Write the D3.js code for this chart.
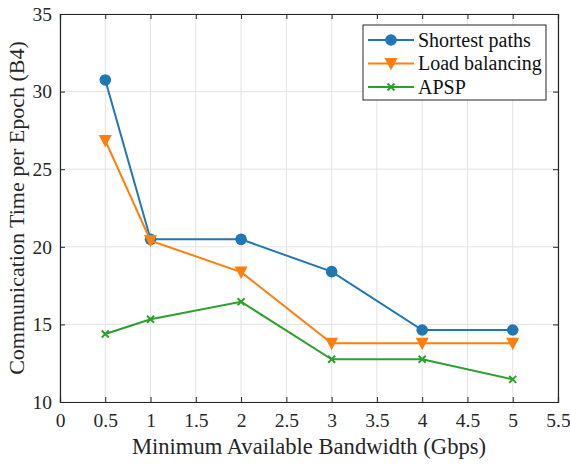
<!DOCTYPE html>
<html>
<head>
<meta charset="utf-8">
<script src="https://cdn.jsdelivr.net/npm/d3@7"></script>
<style>
  body { margin: 0; background: #fff; }
  svg text { font-family: "Liberation Serif", "DejaVu Serif", serif; }
</style>
</head>
<body>
<div id="chart"></div>
<script>
'use strict';

var bandwidth = [0.5, 1, 2, 3, 4, 5];
var shortestPaths = [30.75, 20.48, 20.48, 18.4, 14.64, 14.64];
var loadBalancing = [26.85, 20.4, 18.37, 13.78, 13.78, 13.78];
var apsp = [14.38, 15.33, 16.46, 12.75, 12.75, 11.46];
var seriesNames = ['Shortest paths', 'Load balancing', 'APSP'];
var seriesColors = ['#1f77b4', '#ff7f0e', '#2ca02c'];
var xTicks = [0, 0.5, 1, 1.5, 2, 2.5, 3, 3.5, 4, 4.5, 5, 5.5];
var yTicks = [10, 15, 20, 25, 30, 35];

var width = 570;
var height = 464;
var margin = { top: 14, right: 12, bottom: 62, left: 60 };

var svg = d3.select('#chart').append('svg')
  .attr('width', width)
  .attr('height', height);

var x = d3.scaleLinear().domain([0, 5.5]).range([margin.left, width - margin.right]);
var y = d3.scaleLinear().domain([10, 35]).range([height - margin.bottom, margin.top]);

// grid
svg.append('g').selectAll('line')
  .data(xTicks).enter()
  .append('line')
  .attr('x1', function (d) { return x(d); })
  .attr('x2', function (d) { return x(d); })
  .attr('y1', y(10))
  .attr('y2', y(35))
  .attr('stroke', '#e3e3e3')
  .attr('stroke-width', 1);

svg.append('g').selectAll('line')
  .data(yTicks).enter()
  .append('line')
  .attr('y1', function (d) { return y(d); })
  .attr('y2', function (d) { return y(d); })
  .attr('x1', x(0))
  .attr('x2', x(5.5))
  .attr('stroke', '#e3e3e3')
  .attr('stroke-width', 1);

// axes, ticks inside like matlab
var tickLen = 5;
var bottomAxis = svg.append('g')
  .attr('transform', 'translate(0,' + y(10) + ')')
  .call(d3.axisBottom(x).tickValues(xTicks).tickSize(-tickLen).tickPadding(tickLen + 6)
    .tickFormat(d3.format('')));
var topAxis = svg.append('g')
  .attr('transform', 'translate(0,' + y(35) + ')')
  .call(d3.axisTop(x).tickValues(xTicks).tickSize(-tickLen).tickFormat(''));
var leftAxis = svg.append('g')
  .attr('transform', 'translate(' + x(0) + ',0)')
  .call(d3.axisLeft(y).tickValues(yTicks).tickSize(-tickLen).tickPadding(tickLen + 3));
var rightAxis = svg.append('g')
  .attr('transform', 'translate(' + x(5.5) + ',0)')
  .call(d3.axisRight(y).tickValues(yTicks).tickSize(-tickLen).tickFormat(''));

[bottomAxis, topAxis, leftAxis, rightAxis].forEach(function (a) {
  a.attr('font-family', null).attr('font-size', 19.5);
  a.select('.domain').attr('stroke', '#262626').attr('stroke-width', 1.2);
  a.selectAll('.tick line').attr('stroke', '#262626').attr('stroke-width', 1);
  a.selectAll('.tick text').attr('fill', '#262626');
});

// axis titles
svg.append('text')
  .text('Minimum Available Bandwidth (Gbps)')
  .attr('x', (x(0) + x(5.5)) / 2)
  .attr('y', 454)
  .attr('text-anchor', 'middle')
  .attr('font-size', 22.6)
  .attr('fill', '#262626');

svg.append('text')
  .text('Communication Time per Epoch (B4)')
  .attr('transform', 'translate(24,' + (y(10) + y(35)) / 2 + ') rotate(-90)')
  .attr('text-anchor', 'middle')
  .attr('font-size', 22)
  .attr('fill', '#262626');

// series
var allSeries = [shortestPaths, loadBalancing, apsp];
var line = d3.line()
  .x(function (d, i) { return x(bandwidth[i]); })
  .y(function (d) { return y(d); });

function drawMarker(g, kind, color) {
  if (kind === 0) {
    g.append('circle').attr('r', 5.8).attr('fill', color);
  } else if (kind === 1) {
    g.append('path').attr('d', 'M-6.5,-5.5L6.5,-5.5L0,7z').attr('fill', color);
  } else {
    g.append('path').attr('d', 'M-3.5,-3.5L3.5,3.5M-3.5,3.5L3.5,-3.5')
      .attr('stroke', color).attr('stroke-width', 2).attr('fill', 'none');
  }
}

allSeries.forEach(function (values, k) {
  svg.append('path')
    .datum(values)
    .attr('d', line)
    .attr('fill', 'none')
    .attr('stroke', seriesColors[k])
    .attr('stroke-width', 2);

  svg.append('g').selectAll('g')
    .data(values).enter()
    .append('g')
    .attr('transform', function (d, i) { return 'translate(' + x(bandwidth[i]) + ',' + y(d) + ')'; })
    .each(function () { drawMarker(d3.select(this), k, seriesColors[k]); });
});

// legend
var legend = svg.append('g').attr('transform', 'translate(363,25)');
legend.append('rect')
  .attr('width', 183)
  .attr('height', 75)
  .attr('fill', '#fff')
  .attr('stroke', '#262626')
  .attr('stroke-width', 1);

seriesNames.forEach(function (name, k) {
  var row = legend.append('g').attr('transform', 'translate(0,' + (15 + k * 23.5) + ')');
  row.append('line')
    .attr('x1', 5).attr('x2', 51)
    .attr('stroke', seriesColors[k])
    .attr('stroke-width', 2);
  drawMarker(row.append('g').attr('transform', 'translate(28,0)'), k, seriesColors[k]);
  row.append('text')
    .text(name)
    .attr('x', 55)
    .attr('y', 6.5)
    .attr('font-size', 20)
    .attr('fill', '#111');
});
</script>
</body>
</html>
